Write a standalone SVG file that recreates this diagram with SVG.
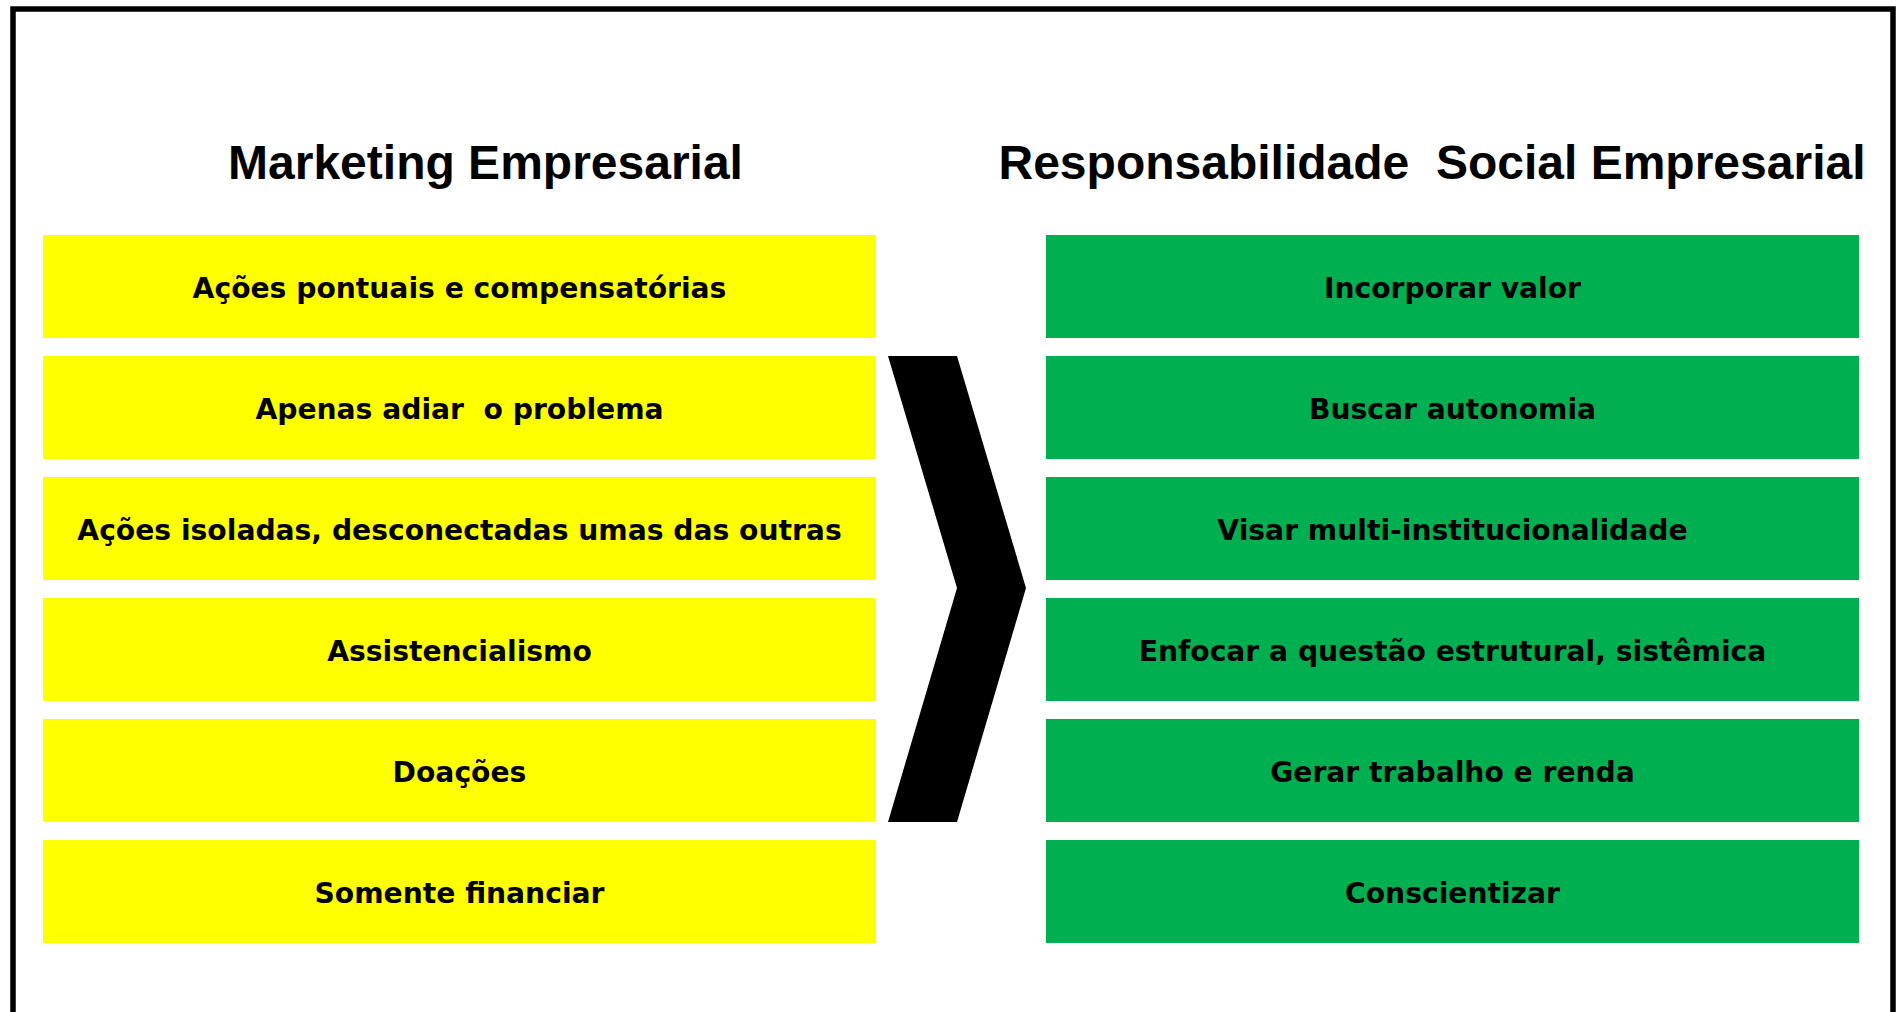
<svg xmlns="http://www.w3.org/2000/svg" width="1899" height="1012" viewBox="0 0 1899 1012">
  <style>
    .title { font-family: "Liberation Sans", Arial, sans-serif; font-weight: bold; font-size: 48px; fill: #000; text-anchor: middle; white-space: pre; }
    .lbl { font-family: "DejaVu Sans", Verdana, sans-serif; font-weight: bold; font-size: 28.2px; fill: #000; text-anchor: middle; white-space: pre; }
    .yel { fill: #FFFF00; }
    .grn { fill: #00B050; }
  </style>
  <rect x="0" y="0" width="1899" height="1012" fill="#fff"/>
  <rect id="frame" x="13" y="9" width="1880" height="1100" fill="none" stroke="#000" stroke-width="5.5"/>

  <g id="title-left"><text class="title" x="485.5" y="179">Marketing Empresarial</text></g>
  <g id="title-right"><text class="title" x="1432" y="179" xml:space="preserve">Responsabilidade  Social Empresarial</text></g>

  <g id="left-1"><rect class="yel" x="43" y="235" width="833" height="103"/><text class="lbl" x="459.5" y="298">Ações pontuais e compensatórias</text></g>
  <g id="left-2"><rect class="yel" x="43" y="356" width="833" height="103"/><text class="lbl" x="459.5" y="419" xml:space="preserve">Apenas adiar  o problema</text></g>
  <g id="left-3"><rect class="yel" x="43" y="477" width="833" height="103"/><text class="lbl" x="459.5" y="540">Ações isoladas, desconectadas umas das outras</text></g>
  <g id="left-4"><rect class="yel" x="43" y="598" width="833" height="103"/><text class="lbl" x="459.5" y="661">Assistencialismo</text></g>
  <g id="left-5"><rect class="yel" x="43" y="719" width="833" height="103"/><text class="lbl" x="459.5" y="782">Doações</text></g>
  <g id="left-6"><rect class="yel" x="43" y="840" width="833" height="103"/><text class="lbl" x="459.5" y="903">Somente financiar</text></g>

  <g id="right-1"><rect class="grn" x="1046" y="235" width="813" height="103"/><text class="lbl" x="1452.5" y="298">Incorporar valor</text></g>
  <g id="right-2"><rect class="grn" x="1046" y="356" width="813" height="103"/><text class="lbl" x="1452.5" y="419">Buscar autonomia</text></g>
  <g id="right-3"><rect class="grn" x="1046" y="477" width="813" height="103"/><text class="lbl" x="1452.5" y="540">Visar multi-institucionalidade</text></g>
  <g id="right-4"><rect class="grn" x="1046" y="598" width="813" height="103"/><text class="lbl" x="1452.5" y="661">Enfocar a questão estrutural, sistêmica</text></g>
  <g id="right-5"><rect class="grn" x="1046" y="719" width="813" height="103"/><text class="lbl" x="1452.5" y="782">Gerar trabalho e renda</text></g>
  <g id="right-6"><rect class="grn" x="1046" y="840" width="813" height="103"/><text class="lbl" x="1452.5" y="903">Conscientizar</text></g>

  <g id="connectors">
    <polygon id="chevron" points="888,356 957,356 1026,588 957,822 888,822 957,588" fill="#000"/>
  </g>
</svg>
